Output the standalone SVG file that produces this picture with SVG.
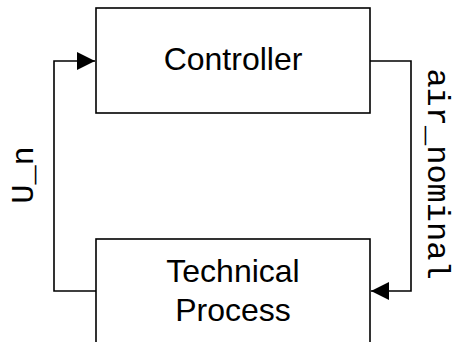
<svg xmlns="http://www.w3.org/2000/svg" width="454" height="342" viewBox="0 0 454 342">
<style>
.box{fill:#fff;stroke:#000;stroke-width:1.6}
.line{fill:none;stroke:#000;stroke-width:1.6}
.t{font-family:"Liberation Sans",Arial,sans-serif;font-size:32px;fill:#000;text-anchor:middle}
.m{font-family:"Liberation Mono","Courier New",monospace;font-size:32px;fill:#000;text-anchor:middle}
</style>
<defs>
<marker id="arr" markerUnits="userSpaceOnUse" markerWidth="19" markerHeight="19" refX="18" refY="9" orient="auto">
<path d="M0,0 L18,9 L0,18 Z" fill="#000"/>
</marker>
</defs>
<rect width="454" height="342" fill="#fff"/>
<g id="connectors">
<path class="line" d="M96,291 H54 V61 H95" marker-end="url(#arr)"/>
<path class="line" d="M370,61 H411 V291 H371" marker-end="url(#arr)"/>
<text class="m" transform="translate(33,175) rotate(-90)">U_n</text>
<text class="m" transform="translate(428,174) rotate(90)">air_nominal</text>
</g>
<g id="controller">
<rect class="box" x="96" y="8" width="274" height="105"/>
<text class="t" x="233" y="70">Controller</text>
</g>
<g id="technical-process">
<rect class="box" x="96" y="239" width="274" height="120"/>
<text class="t" x="233" y="282">Technical</text>
<text class="t" x="233" y="321">Process</text>
</g>
</svg>
